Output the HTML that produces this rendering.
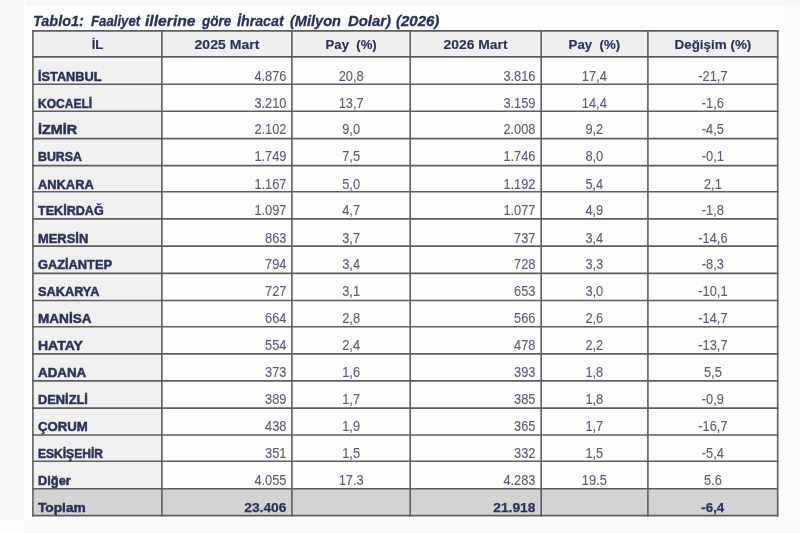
<!DOCTYPE html>
<html><head><meta charset="utf-8"><title>Tablo1</title>
<style>
html,body{margin:0;padding:0;}
body{width:800px;height:533px;position:relative;overflow:hidden;background:#fdfdfd;font-family:"Liberation Sans",Arial,sans-serif;}
.lstrip{position:absolute;left:0;top:0;width:24px;height:520px;background:#f6f6f6;}
.bstrip{position:absolute;left:25px;top:520px;width:775px;height:13px;background:#f9f9f9;}
.rstrip{position:absolute;left:783px;top:6px;width:17px;height:514px;background:#fbfbfb;}
.tstrip{position:absolute;left:25px;top:0;width:775px;height:6px;background:#f7f7f7;}
.grid{position:absolute;left:0;top:0;}
.grid line{stroke:#5e5e5e;stroke-width:1.6;shape-rendering:geometricPrecision;}
.title{position:absolute;left:0;top:12px;font-weight:bold;font-style:italic;font-size:15px;color:#27305e;-webkit-text-stroke:0.3px #27305e;white-space:nowrap;line-height:18px;}
.t{position:absolute;white-space:nowrap;line-height:16px;height:16px;transform-origin:0 0;}
.h{font-weight:bold;font-size:13.6px;color:#2b3259;text-align:center;-webkit-text-stroke:0.15px #2b3259;}
.n{font-weight:bold;font-size:13.3px;color:#2b3259;-webkit-text-stroke:0.5px #2b3259;}
.v{font-size:13.8px;color:#595d7a;-webkit-text-stroke:0.12px #595d7a;}
.r{text-align:right;transform:scaleX(0.93);transform-origin:100% 0;}
.c{text-align:center;transform:scaleX(0.93);transform-origin:50% 0;}
.b{font-weight:bold;color:#2b3259;font-size:13.3px;-webkit-text-stroke:0.25px #2b3259;}
.r.b{transform:scaleX(1.04);}
.c.b{transform:scaleX(1.0);}
.tw{position:absolute;top:0;transform-origin:0 0;}
</style></head><body>
<div class="lstrip"></div><div class="tstrip"></div><div class="bstrip"></div><div class="rstrip"></div>

<svg class="grid" width="800" height="533" viewBox="0 0 800 533">
<rect x="32.9" y="30.9" width="744.8000000000001" height="26.0" fill="#efefef"/>
<rect x="32.9" y="56.9" width="129.0" height="431.90000000000003" fill="#f0f0f0"/>
<rect x="32.9" y="488.8" width="744.8000000000001" height="26.80000000000001" fill="#d3d3d3"/>
<g>
<line x1="32.1" y1="30.90" x2="778.5" y2="30.90"/>
<line x1="32.1" y1="56.90" x2="778.5" y2="56.90"/>
<line x1="32.1" y1="84.30" x2="778.5" y2="84.30"/>
<line x1="32.1" y1="111.20" x2="778.5" y2="111.20"/>
<line x1="32.1" y1="138.60" x2="778.5" y2="138.60"/>
<line x1="32.1" y1="165.60" x2="778.5" y2="165.60"/>
<line x1="32.1" y1="191.80" x2="778.5" y2="191.80"/>
<line x1="32.1" y1="218.90" x2="778.5" y2="218.90"/>
<line x1="32.1" y1="246.10" x2="778.5" y2="246.10"/>
<line x1="32.1" y1="273.40" x2="778.5" y2="273.40"/>
<line x1="32.1" y1="300.50" x2="778.5" y2="300.50"/>
<line x1="32.1" y1="326.70" x2="778.5" y2="326.70"/>
<line x1="32.1" y1="353.90" x2="778.5" y2="353.90"/>
<line x1="32.1" y1="380.90" x2="778.5" y2="380.90"/>
<line x1="32.1" y1="408.10" x2="778.5" y2="408.10"/>
<line x1="32.1" y1="435.00" x2="778.5" y2="435.00"/>
<line x1="32.1" y1="461.30" x2="778.5" y2="461.30"/>
<line x1="32.1" y1="488.80" x2="778.5" y2="488.80"/>
<line x1="32.1" y1="515.60" x2="778.5" y2="515.60"/>
<line x1="32.90" y1="30.099999999999998" x2="32.90" y2="516.40"/>
<line x1="161.90" y1="30.099999999999998" x2="161.90" y2="516.40"/>
<line x1="291.90" y1="30.099999999999998" x2="291.90" y2="516.40"/>
<line x1="410.20" y1="30.099999999999998" x2="410.20" y2="516.40"/>
<line x1="541.20" y1="30.099999999999998" x2="541.20" y2="516.40"/>
<line x1="647.90" y1="30.099999999999998" x2="647.90" y2="516.40"/>
<line x1="777.70" y1="30.099999999999998" x2="777.70" y2="516.40"/>
</g></svg>
<div class="title">
<span class="tw" style="left:32.94px;transform:scaleX(0.9627)">Tablo1:</span>
<span class="tw" style="left:90.50px;transform:scaleX(0.8807)">Faaliyet</span>
<span class="tw" style="left:145.10px;transform:scaleX(1.0458)">illerine</span>
<span class="tw" style="left:201.50px;transform:scaleX(0.9031)">göre</span>
<span class="tw" style="left:236.90px;transform:scaleX(0.9480)">İhracat</span>
<span class="tw" style="left:289.80px;transform:scaleX(0.9712)">(Milyon</span>
<span class="tw" style="left:347.90px;transform:scaleX(0.9907)">Dolar)</span>
<span class="tw" style="left:396.00px;transform:scaleX(1.0000)">(2026)</span>
</div>
<div class="t h" style="left:32.9px;width:129.0px;top:37px;transform:scaleX(0.9545);transform-origin:50% 0">İL</div>
<div class="t h" style="left:161.9px;width:130.0px;top:37px;transform:scaleX(1.0355);transform-origin:50% 0">2025 Mart</div>
<div class="t h" style="left:291.9px;width:118.3px;top:37px;transform:scaleX(0.9654);transform-origin:50% 0">Pay&nbsp; (%)</div>
<div class="t h" style="left:410.2px;width:131.0px;top:37px;transform:scaleX(1.0206);transform-origin:50% 0">2026 Mart</div>
<div class="t h" style="left:541.2px;width:106.7px;top:37px;transform:scaleX(0.9731);transform-origin:50% 0">Pay&nbsp; (%)</div>
<div class="t h" style="left:647.9px;width:129.8px;top:37px;transform:scaleX(0.9868);transform-origin:50% 0">Değişim (%)</div>
<div class="t n" style="left:38.4px;top:69px;transform:scaleX(0.959)">İSTANBUL</div>
<div class="t v r" style="left:161.9px;width:124.5px;top:69px">4.876</div>
<div class="t v c" style="left:291.9px;width:118.3px;top:69px">20,8</div>
<div class="t v r" style="left:410.2px;width:125.5px;top:69px">3.816</div>
<div class="t v c" style="left:541.2px;width:106.7px;top:69px">17,4</div>
<div class="t v c" style="left:647.9px;width:129.8px;top:69px">-21,7</div>
<div class="t n" style="left:38.4px;top:96px;transform:scaleX(0.905)">KOCAELİ</div>
<div class="t v r" style="left:161.9px;width:124.5px;top:96px">3.210</div>
<div class="t v c" style="left:291.9px;width:118.3px;top:96px">13,7</div>
<div class="t v r" style="left:410.2px;width:125.5px;top:96px">3.159</div>
<div class="t v c" style="left:541.2px;width:106.7px;top:96px">14,4</div>
<div class="t v c" style="left:647.9px;width:129.8px;top:96px">-1,6</div>
<div class="t n" style="left:38.4px;top:122px;transform:scaleX(1.077)">İZMİR</div>
<div class="t v r" style="left:161.9px;width:124.5px;top:122px">2.102</div>
<div class="t v c" style="left:291.9px;width:118.3px;top:122px">9,0</div>
<div class="t v r" style="left:410.2px;width:125.5px;top:122px">2.008</div>
<div class="t v c" style="left:541.2px;width:106.7px;top:122px">9,2</div>
<div class="t v c" style="left:647.9px;width:129.8px;top:122px">-4,5</div>
<div class="t n" style="left:38.4px;top:149px;transform:scaleX(0.928)">BURSA</div>
<div class="t v r" style="left:161.9px;width:124.5px;top:149px">1.749</div>
<div class="t v c" style="left:291.9px;width:118.3px;top:149px">7,5</div>
<div class="t v r" style="left:410.2px;width:125.5px;top:149px">1.746</div>
<div class="t v c" style="left:541.2px;width:106.7px;top:149px">8,0</div>
<div class="t v c" style="left:647.9px;width:129.8px;top:149px">-0,1</div>
<div class="t n" style="left:38.4px;top:177px;transform:scaleX(0.967)">ANKARA</div>
<div class="t v r" style="left:161.9px;width:124.5px;top:177px">1.167</div>
<div class="t v c" style="left:291.9px;width:118.3px;top:177px">5,0</div>
<div class="t v r" style="left:410.2px;width:125.5px;top:177px">1.192</div>
<div class="t v c" style="left:541.2px;width:106.7px;top:177px">5,4</div>
<div class="t v c" style="left:647.9px;width:129.8px;top:177px">2,1</div>
<div class="t n" style="left:38.4px;top:203px;transform:scaleX(0.946)">TEKİRDAĞ</div>
<div class="t v r" style="left:161.9px;width:124.5px;top:203px">1.097</div>
<div class="t v c" style="left:291.9px;width:118.3px;top:203px">4,7</div>
<div class="t v r" style="left:410.2px;width:125.5px;top:203px">1.077</div>
<div class="t v c" style="left:541.2px;width:106.7px;top:203px">4,9</div>
<div class="t v c" style="left:647.9px;width:129.8px;top:203px">-1,8</div>
<div class="t n" style="left:38.4px;top:231px;transform:scaleX(0.971)">MERSİN</div>
<div class="t v r" style="left:161.9px;width:124.5px;top:231px">863</div>
<div class="t v c" style="left:291.9px;width:118.3px;top:231px">3,7</div>
<div class="t v r" style="left:410.2px;width:125.5px;top:231px">737</div>
<div class="t v c" style="left:541.2px;width:106.7px;top:231px">3,4</div>
<div class="t v c" style="left:647.9px;width:129.8px;top:231px">-14,6</div>
<div class="t n" style="left:38.4px;top:257px;transform:scaleX(0.963)">GAZİANTEP</div>
<div class="t v r" style="left:161.9px;width:124.5px;top:257px">794</div>
<div class="t v c" style="left:291.9px;width:118.3px;top:257px">3,4</div>
<div class="t v r" style="left:410.2px;width:125.5px;top:257px">728</div>
<div class="t v c" style="left:541.2px;width:106.7px;top:257px">3,3</div>
<div class="t v c" style="left:647.9px;width:129.8px;top:257px">-8,3</div>
<div class="t n" style="left:38.4px;top:284px;transform:scaleX(0.959)">SAKARYA</div>
<div class="t v r" style="left:161.9px;width:124.5px;top:284px">727</div>
<div class="t v c" style="left:291.9px;width:118.3px;top:284px">3,1</div>
<div class="t v r" style="left:410.2px;width:125.5px;top:284px">653</div>
<div class="t v c" style="left:541.2px;width:106.7px;top:284px">3,0</div>
<div class="t v c" style="left:647.9px;width:129.8px;top:284px">-10,1</div>
<div class="t n" style="left:38.4px;top:311px;transform:scaleX(1.021)">MANİSA</div>
<div class="t v r" style="left:161.9px;width:124.5px;top:311px">664</div>
<div class="t v c" style="left:291.9px;width:118.3px;top:311px">2,8</div>
<div class="t v r" style="left:410.2px;width:125.5px;top:311px">566</div>
<div class="t v c" style="left:541.2px;width:106.7px;top:311px">2,6</div>
<div class="t v c" style="left:647.9px;width:129.8px;top:311px">-14,7</div>
<div class="t n" style="left:38.4px;top:338px;transform:scaleX(1.052)">HATAY</div>
<div class="t v r" style="left:161.9px;width:124.5px;top:338px">554</div>
<div class="t v c" style="left:291.9px;width:118.3px;top:338px">2,4</div>
<div class="t v r" style="left:410.2px;width:125.5px;top:338px">478</div>
<div class="t v c" style="left:541.2px;width:106.7px;top:338px">2,2</div>
<div class="t v c" style="left:647.9px;width:129.8px;top:338px">-13,7</div>
<div class="t n" style="left:38.4px;top:365px;transform:scaleX(1.004)">ADANA</div>
<div class="t v r" style="left:161.9px;width:124.5px;top:365px">373</div>
<div class="t v c" style="left:291.9px;width:118.3px;top:365px">1,6</div>
<div class="t v r" style="left:410.2px;width:125.5px;top:365px">393</div>
<div class="t v c" style="left:541.2px;width:106.7px;top:365px">1,8</div>
<div class="t v c" style="left:647.9px;width:129.8px;top:365px">5,5</div>
<div class="t n" style="left:38.4px;top:392px;transform:scaleX(0.965)">DENİZLİ</div>
<div class="t v r" style="left:161.9px;width:124.5px;top:392px">389</div>
<div class="t v c" style="left:291.9px;width:118.3px;top:392px">1,7</div>
<div class="t v r" style="left:410.2px;width:125.5px;top:392px">385</div>
<div class="t v c" style="left:541.2px;width:106.7px;top:392px">1,8</div>
<div class="t v c" style="left:647.9px;width:129.8px;top:392px">-0,9</div>
<div class="t n" style="left:38.4px;top:419px;transform:scaleX(0.992)">ÇORUM</div>
<div class="t v r" style="left:161.9px;width:124.5px;top:419px">438</div>
<div class="t v c" style="left:291.9px;width:118.3px;top:419px">1,9</div>
<div class="t v r" style="left:410.2px;width:125.5px;top:419px">365</div>
<div class="t v c" style="left:541.2px;width:106.7px;top:419px">1,7</div>
<div class="t v c" style="left:647.9px;width:129.8px;top:419px">-16,7</div>
<div class="t n" style="left:38.4px;top:446px;transform:scaleX(0.906)">ESKİŞEHİR</div>
<div class="t v r" style="left:161.9px;width:124.5px;top:446px">351</div>
<div class="t v c" style="left:291.9px;width:118.3px;top:446px">1,5</div>
<div class="t v r" style="left:410.2px;width:125.5px;top:446px">332</div>
<div class="t v c" style="left:541.2px;width:106.7px;top:446px">1,5</div>
<div class="t v c" style="left:647.9px;width:129.8px;top:446px">-5,4</div>
<div class="t n" style="left:38.4px;top:473px;transform:scaleX(0.965)">Diğer</div>
<div class="t v r" style="left:161.9px;width:124.5px;top:473px">4.055</div>
<div class="t v c" style="left:291.9px;width:118.3px;top:473px">17.3</div>
<div class="t v r" style="left:410.2px;width:125.5px;top:473px">4.283</div>
<div class="t v c" style="left:541.2px;width:106.7px;top:473px">19.5</div>
<div class="t v c" style="left:647.9px;width:129.8px;top:473px">5.6</div>
<div class="t n" style="left:38.4px;top:500px;transform:scaleX(1.031)">Toplam</div>
<div class="t v r b" style="left:161.9px;width:124.5px;top:500px">23.406</div>
<div class="t v r b" style="left:410.2px;width:125.5px;top:500px">21.918</div>
<div class="t v c b" style="left:647.9px;width:129.8px;top:500px">-6,4</div>
</body></html>
